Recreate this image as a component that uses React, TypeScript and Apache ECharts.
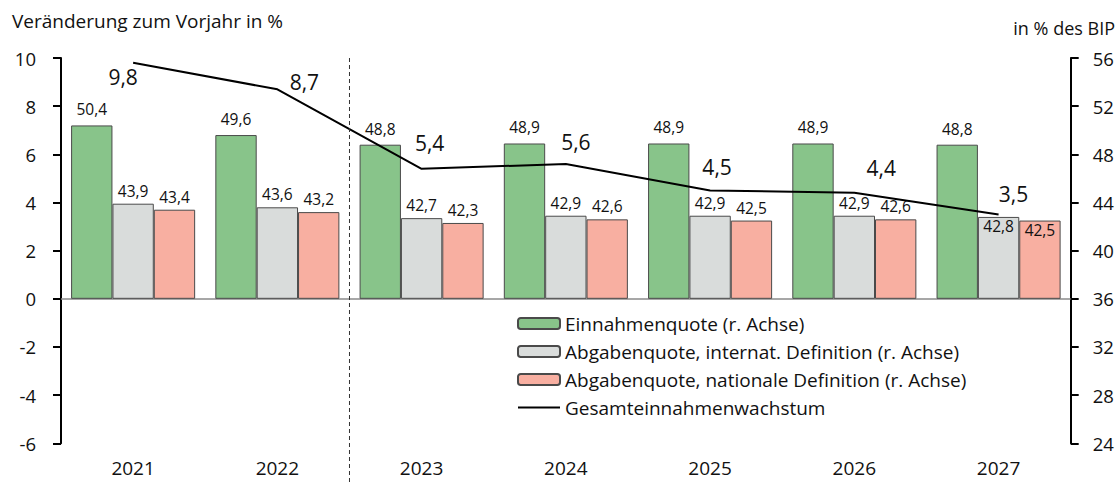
import React, { useEffect, useRef } from "react";
import * as echarts from "echarts";

const categories = ["2021", "2022", "2023", "2024", "2025", "2026", "2027"];
const einnahmenquote = [50.4, 49.6, 48.8, 48.9, 48.9, 48.9, 48.8];
const abgabenInternat = [43.9, 43.6, 42.7, 42.9, 42.9, 42.9, 42.8];
const abgabenNational = [43.4, 43.2, 42.3, 42.6, 42.5, 42.6, 42.5];
const gesamtWachstum = [9.8, 8.7, 5.4, 5.6, 4.5, 4.4, 3.5];
const leftTicks = { min: -6, max: 10, interval: 2 };
const rightTicks = { min: 24, max: 56, interval: 4 };
const barBase = 36; // right-axis value at which bars start (aligned with 0 of left axis)

const lineLabelOffsets = [
  [-10, 26],
  [27, 4],
  [8, -14],
  [10, -10],
  [7, -12],
  [27, -13],
  [15, -9],
];

const FONT = "Open Sans";
const W = 1119;
const H = 483;
const GRID = { left: 61, right: 48.3, top: 58, bottom: 39.7 };

const fmt = (v: number) => (Math.round(v * 10) / 10).toFixed(1).replace(".", ",");

export default function App() {
  const ref = useRef<HTMLDivElement>(null);
  useEffect(() => {
    if (!ref.current) return;
    const chart = echarts.init(ref.current, undefined, { renderer: "svg" });
    const plotW = W - GRID.left - GRID.right;
    const catW = plotW / categories.length;
    const dividerX = GRID.left + 2 * catW;

    const barSeries = (
      name: string,
      values: number[],
      color: string,
      dist: number,
      insideIdx: number[]
    ) => ({
      name,
      type: "bar",
      yAxisIndex: 1,
      barGap: "0%",
      barCategoryGap: "14%",
      itemStyle: { color, borderColor: "#4a4a4a", borderWidth: 1 },
      label: {
        show: true,
        position: "top",
        distance: dist,
        fontFamily: FONT,
        fontSize: 15.5,
        color: "#111",
        formatter: (p: any) => fmt(p.value + barBase),
      },
      data: values.map((v, i) =>
        insideIdx.includes(i)
          ? { value: v - barBase, label: { position: "insideTop", distance: 1 } }
          : v - barBase
      ),
      z: 2,
    });

    chart.setOption({
      animation: false,
      textStyle: { fontFamily: FONT },
      title: [
        {
          text: "Veränderung zum Vorjahr in %",
          left: 12,
          top: 11,
          padding: 0,
          textStyle: { fontFamily: FONT, fontSize: 19, fontWeight: "normal", color: "#111" },
        },
        {
          text: "in % des BIP",
          right: 4,
          top: 19,
          padding: 0,
          textStyle: { fontFamily: FONT, fontSize: 18, fontWeight: "normal", color: "#111" },
        },
      ],
      grid: { ...GRID },
      legend: {
        orient: "vertical",
        left: 517,
        top: 314,
        itemWidth: 42,
        itemHeight: 11,
        itemGap: 9,
        padding: 0,
        textStyle: { fontFamily: FONT, fontSize: 19, lineHeight: 18, color: "#111" },
        data: [
          "Einnahmenquote (r. Achse)",
          "Abgabenquote, internat. Definition (r. Achse)",
          "Abgabenquote, nationale Definition (r. Achse)",
          "Gesamteinnahmenwachstum",
        ],
      },
      xAxis: {
        type: "category",
        data: categories,
        axisLine: { show: false, onZero: false },
        axisTick: { show: false },
        axisLabel: { fontFamily: FONT, fontSize: 19, lineHeight: 20, color: "#111", margin: 15 },
        splitLine: { show: false },
      },
      yAxis: [
        {
          type: "value",
          position: "left",
          min: leftTicks.min,
          max: leftTicks.max,
          interval: leftTicks.interval,
          axisLine: { show: true, lineStyle: { color: "#000", width: 2 } },
          axisTick: { show: true, inside: false, length: 8, lineStyle: { color: "#000", width: 2 } },
          axisLabel: { fontFamily: FONT, fontSize: 18.5, color: "#111", margin: 25 },
          splitLine: { show: false },
        },
        {
          type: "value",
          position: "right",
          min: rightTicks.min - barBase,
          max: rightTicks.max - barBase,
          interval: rightTicks.interval,
          axisLine: { show: true, lineStyle: { color: "#000", width: 2 } },
          axisTick: { show: true, inside: false, length: 8, lineStyle: { color: "#000", width: 2 } },
          axisLabel: {
            fontFamily: FONT,
            fontSize: 18.5,
            color: "#111",
            margin: 22,
            formatter: (v: number) => String(v + barBase),
          },
          splitLine: { show: false },
        },
      ],
      series: [
        barSeries("Einnahmenquote (r. Achse)", einnahmenquote, "#88C48A", 8, []),
        barSeries("Abgabenquote, internat. Definition (r. Achse)", abgabenInternat, "#D9DCDB", 5, [6]),
        barSeries("Abgabenquote, nationale Definition (r. Achse)", abgabenNational, "#F8AFA1", 5, [6]),
        {
          name: "Gesamteinnahmenwachstum",
          type: "line",
          yAxisIndex: 0,
          symbol: "circle",
          symbolSize: 1,
          showSymbol: true,
          lineStyle: { color: "#000", width: 2 },
          itemStyle: { color: "rgba(0,0,0,0)" },
          z: 5,
          label: {
            show: true,
            position: "top",
            distance: 0,
            fontFamily: FONT,
            fontSize: 21,
            lineHeight: 22,
            color: "#111",
            formatter: (p: any) => fmt(p.value),
          },
          data: gesamtWachstum.map((v, i) => ({
            value: v,
            label: { offset: lineLabelOffsets[i] },
          })),
          markLine: {
            silent: true,
            symbol: "none",
            label: { show: false },
            lineStyle: { color: "#8a8a8a", width: 1.5, type: "solid" },
            data: [{ yAxis: 0 }],
            z: 1,
          },
        },
      ],
      graphic: [
        {
          type: "line",
          shape: { x1: dividerX, y1: GRID.top, x2: dividerX, y2: H },
          style: { stroke: "#333", lineWidth: 1, lineDash: [4, 3] },
          z: 10,
        },
      ],
    });
    return () => chart.dispose();
  }, []);
  return (
    <div
      ref={ref}
      style={{ position: "fixed", left: 0, top: 0, width: W, height: H, background: "#fff" }}
    />
  );
}
